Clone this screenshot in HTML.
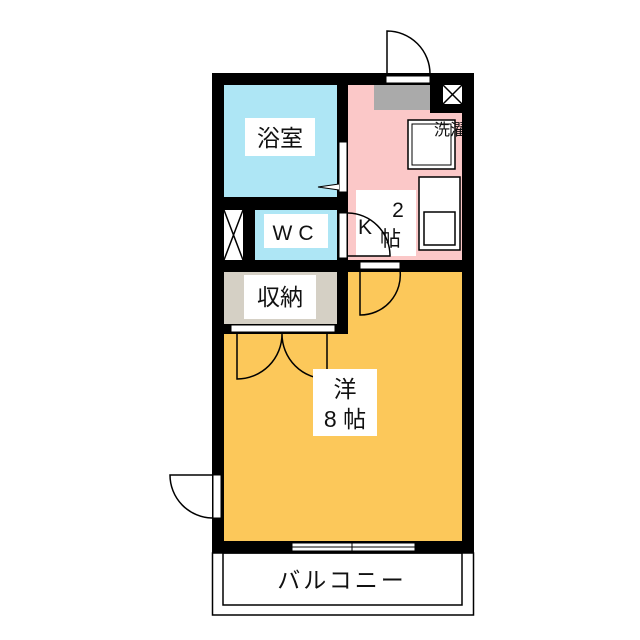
<!DOCTYPE html>
<html><head><meta charset="utf-8"><style>
body{margin:0;background:#fff}
svg{display:block}
text{font-family:"Liberation Sans","Noto Sans CJK JP",sans-serif;fill:#111}
</style></head><body>
<svg width="640" height="640" viewBox="0 0 640 640">
<defs><clipPath id="c"><rect x="430" y="110" width="32" height="30"/></clipPath></defs>
<rect x="212" y="73" width="262" height="480" fill="#000"/>
<rect x="224" y="85" width="113" height="112" fill="#aee6f5"/>
<rect x="348" y="85" width="114" height="175" fill="#fbc8c8"/>
<rect x="255" y="210" width="82" height="50" fill="#aee6f5"/>
<rect x="224" y="210" width="19" height="50" fill="#fff"/>
<path d="M224 210L243 260M243 210L224 260" stroke="#000" stroke-width="1.5"/>
<rect x="224" y="272" width="113" height="52" fill="#d5d0c5"/>
<rect x="348" y="272" width="114" height="62" fill="#fcc85a"/>
<rect x="224" y="334" width="238" height="207" fill="#fcc85a"/>
<rect x="224" y="324" width="113" height="10" fill="#000"/>
<rect x="231" y="325" width="104" height="7" fill="#fff" stroke="#000" stroke-width="1"/>
<rect x="374" y="85" width="56" height="25" fill="#aaa"/>
<rect x="430" y="73" width="44" height="40" fill="#000"/>
<rect x="443" y="85" width="19" height="19" fill="#fff"/>
<path d="M443 85L462 104M462 85L443 104" stroke="#000" stroke-width="1.5"/>
<rect x="408" y="120" width="47" height="49" fill="#fff" stroke="#000" stroke-width="1.5"/>
<rect x="412" y="124" width="39" height="41" fill="#fff" stroke="#000" stroke-width="1"/>
<text x="434" y="135" font-size="16" clip-path="url(#c)">洗濯</text>
<rect x="419" y="177" width="41" height="73" fill="#fff" stroke="#000" stroke-width="1.5"/>
<rect x="424" y="212" width="31" height="33" fill="#fff" stroke="#000" stroke-width="1.5"/>
<rect x="386" y="76" width="44" height="7" fill="#fff" stroke="#000"/>
<path d="M387 76V31A43 43 0 0 1 430 74" fill="none" stroke="#000" stroke-width="1.5"/>
<rect x="339" y="142" width="8" height="50" fill="#fff" stroke="#000"/>
<path d="M339 190L318 187L339 184" fill="#fff" stroke="#000"/>
<rect x="339" y="213" width="8" height="45" fill="#fff" stroke="#000"/>
<rect x="360" y="262" width="40" height="7" fill="#fff" stroke="#000"/>
<path d="M360 270V315A40 40 0 0 0 400 270" fill="none" stroke="#000" stroke-width="1.5"/>
<path d="M237 334V379A45 45 0 0 0 282 334M327 334V379A45 45 0 0 1 282 334" fill="none" stroke="#000" stroke-width="1.5"/>
<rect x="213" y="475" width="8" height="43" fill="#fff" stroke="#000"/>
<path d="M212 475H170A43 43 0 0 0 212 518" fill="none" stroke="#000" stroke-width="1.5"/>
<rect x="292" y="543" width="123" height="8" fill="#fff" stroke="#000"/>
<line x1="292" y1="547" x2="415" y2="547" stroke="#000"/>
<line x1="352" y1="541" x2="352" y2="553" stroke="#000"/>
<rect x="212.5" y="553" width="261" height="62" fill="#fff" stroke="#000" stroke-width="1.5"/>
<rect x="223" y="553" width="239" height="52" fill="none" stroke="#000" stroke-width="1.5"/>
<rect x="245" y="118" width="70" height="38" fill="#fff"/>
<text x="280" y="146" font-size="23" text-anchor="middle">浴室</text>
<rect x="264" y="214" width="64" height="34" fill="#fff"/>
<text x="296" y="240" font-size="21" text-anchor="middle" letter-spacing="6">WC</text>
<rect x="356" y="190" width="60" height="66" fill="#fff"/>
<text x="398" y="217" font-size="21" text-anchor="middle">2</text>
<text x="358" y="234" font-size="21">K</text>
<text x="380" y="246" font-size="21">帖</text>
<path d="M348 213A43 43 0 0 1 390 255V256H348" fill="none" stroke="#000" stroke-width="1.5"/>
<rect x="244" y="275" width="72" height="44" fill="#fff"/>
<text x="280" y="305" font-size="23" text-anchor="middle">収納</text>
<rect x="313" y="369" width="64" height="67" fill="#fff"/>
<text x="345" y="397" font-size="23" text-anchor="middle">洋</text>
<text x="345" y="427" font-size="23" text-anchor="middle">8 帖</text>
<text x="342" y="588" font-size="23" text-anchor="middle" letter-spacing="3">バルコニー</text>
</svg>
</body></html>
